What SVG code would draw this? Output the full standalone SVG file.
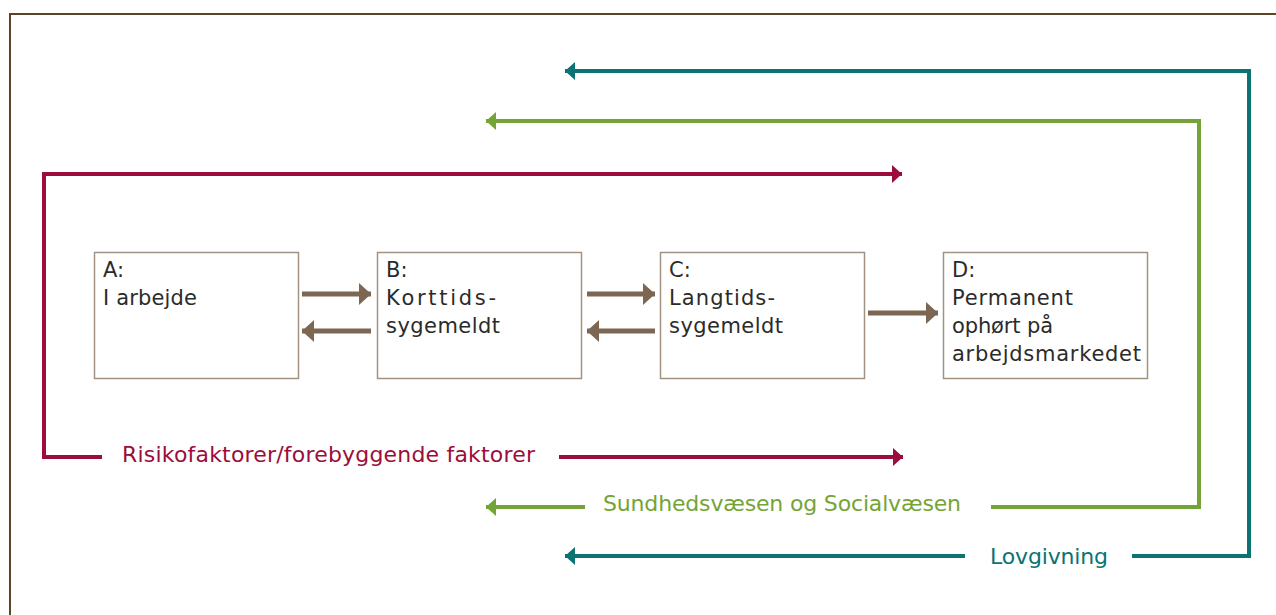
<svg xmlns="http://www.w3.org/2000/svg" width="1276" height="615" viewBox="0 0 1276 615">
<style>
text{font-family:"DejaVu Sans","Liberation Sans",Arial,sans-serif;font-size:21px}
.lb{font-size:22px}
.box{fill:#fff;stroke:#a39282;stroke-width:1.5}
.bt{fill:#2b2b2b}
.br{fill:none;stroke:#7d6652;stroke-width:5}
.red{fill:none;stroke:#9b0d3b;stroke-width:4}
.grn{fill:none;stroke:#74a436;stroke-width:4}
.tea{fill:none;stroke:#0b7372;stroke-width:4}
</style>
<defs>
<marker id="mb" markerUnits="userSpaceOnUse" markerWidth="14" markerHeight="22" refX="12" refY="11" orient="auto"><path d="M0,0 L12,11 L0,22 Z" fill="#7d6652"/></marker>
<marker id="mr" markerUnits="userSpaceOnUse" markerWidth="12" markerHeight="18" refX="10" refY="9" orient="auto"><path d="M0,0 L10,9 L0,18 Z" fill="#9b0d3b"/></marker>
<marker id="mg" markerUnits="userSpaceOnUse" markerWidth="12" markerHeight="18" refX="10" refY="9" orient="auto"><path d="M0,0 L10,9 L0,18 Z" fill="#74a436"/></marker>
<marker id="mt" markerUnits="userSpaceOnUse" markerWidth="12" markerHeight="18" refX="10" refY="9" orient="auto"><path d="M0,0 L10,9 L0,18 Z" fill="#0b7372"/></marker>
</defs>
<rect width="1276" height="615" fill="#fff"/>
<path d="M10,615 V14 H1276" fill="none" stroke="#5a4526" stroke-width="2"/>
<g id="connectors">
<line class="br" x1="302" y1="294" x2="371" y2="294" marker-end="url(#mb)"/>
<line class="br" x1="371" y1="331" x2="302" y2="331" marker-end="url(#mb)"/>
<line class="br" x1="587" y1="294" x2="655" y2="294" marker-end="url(#mb)"/>
<line class="br" x1="655" y1="331" x2="587" y2="331" marker-end="url(#mb)"/>
<line class="br" x1="868" y1="313" x2="938" y2="313" marker-end="url(#mb)"/>
<path class="red" d="M102,457 H44 V174 H902" marker-end="url(#mr)"/>
<line class="red" x1="559" y1="457" x2="903" y2="457" marker-end="url(#mr)"/>
<path class="grn" d="M991,507 H1199 V121 H486" marker-end="url(#mg)"/>
<line class="grn" x1="585" y1="507" x2="486" y2="507" marker-end="url(#mg)"/>
<path class="tea" d="M1132,556 H1249 V71 H565" marker-end="url(#mt)"/>
<line class="tea" x1="965" y1="556" x2="565" y2="556" marker-end="url(#mt)"/>
</g>
<g id="labels">
<text class="lb" x="122" y="462" fill="#9b0d3b" textLength="413" lengthAdjust="spacing">Risikofaktorer/forebyggende faktorer</text>
<text class="lb" x="603" y="511" fill="#74a436" textLength="358" lengthAdjust="spacing">Sundhedsvæsen og Socialvæsen</text>
<text class="lb" x="990" y="564" fill="#0b7372" textLength="118" lengthAdjust="spacing">Lovgivning</text>
</g>
<g id="nodeA">
<rect class="box" x="94.5" y="252.5" width="204" height="126"/>
<text class="bt" x="103" y="277">A:</text>
<text class="bt" x="103" y="305" textLength="94" lengthAdjust="spacing">I arbejde</text>
</g>
<g id="nodeB">
<rect class="box" x="377.5" y="252.5" width="204" height="126"/>
<text class="bt" x="386" y="277">B:</text>
<text class="bt" x="386" y="305" textLength="110" lengthAdjust="spacing">Korttids-</text>
<text class="bt" x="386" y="333" textLength="114" lengthAdjust="spacing">sygemeldt</text>
</g>
<g id="nodeC">
<rect class="box" x="660.5" y="252.5" width="204" height="126"/>
<text class="bt" x="669" y="277">C:</text>
<text class="bt" x="669" y="305" textLength="106" lengthAdjust="spacing">Langtids-</text>
<text class="bt" x="669" y="333" textLength="114" lengthAdjust="spacing">sygemeldt</text>
</g>
<g id="nodeD">
<rect class="box" x="943.5" y="252.5" width="204" height="126"/>
<text class="bt" x="952" y="277">D:</text>
<text class="bt" x="952" y="305" textLength="121" lengthAdjust="spacing">Permanent</text>
<text class="bt" x="952" y="333" textLength="101" lengthAdjust="spacing">ophørt på</text>
<text class="bt" x="952" y="361" textLength="189" lengthAdjust="spacing">arbejdsmarkedet</text>
</g>
</svg>
